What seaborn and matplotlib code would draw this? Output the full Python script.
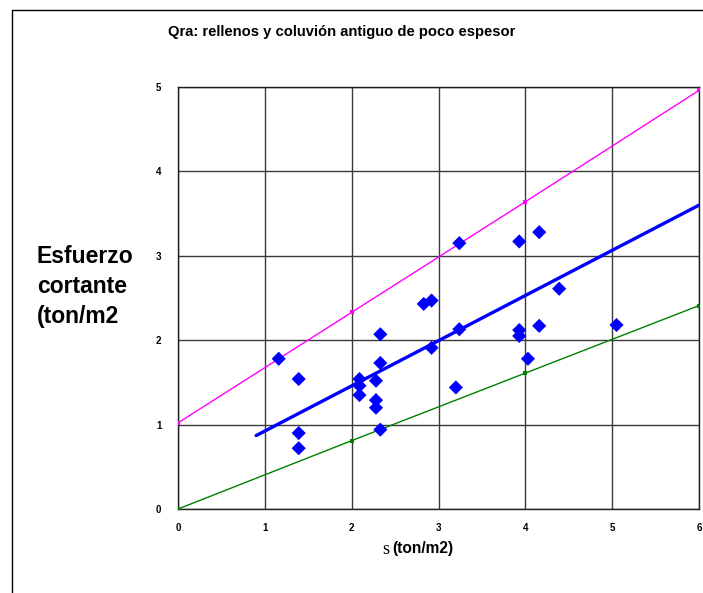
import matplotlib
matplotlib.use("Agg")
import matplotlib.pyplot as plt
import seaborn as sns
import pandas as pd
from matplotlib.lines import Line2D

# ---- data ----
sigma = [1.16, 1.39, 1.39, 1.39, 2.09, 2.09, 2.09, 2.28, 2.28, 2.28,
         2.33, 2.33, 2.33, 2.83, 2.92, 2.92, 3.20, 3.24, 3.24,
         3.93, 3.93, 3.93, 4.03, 4.16, 4.16, 4.39, 5.05]
tau = [1.78, 1.54, 0.90, 0.72, 1.54, 1.46, 1.35, 1.52, 1.29, 1.20,
       0.94, 1.73, 2.07, 2.43, 2.47, 1.91, 1.44, 3.15, 2.13,
       3.17, 2.12, 2.05, 1.78, 3.28, 2.17, 2.61, 2.18]

fit_x = [0.90, 6.0]
fit_y = [0.87, 3.60]

env_x = [0, 2, 4, 6]
upper_y = [1.02, 2.33, 3.64, 4.96]
lower_y = [0.0, 0.81, 1.61, 2.41]

x_ticks = [0, 1, 2, 3, 4, 5, 6]
y_ticks = [0, 1, 2, 3, 4, 5]

title = "Qra: rellenos y coluvión antiguo de poco espesor"
ylabel_lines = ["Esfuerzo", "cortante", "(ton/m2"]

# ---- figure ----
sns.set_theme(style="white")
plt.rcParams["font.family"] = ["Liberation Sans", "DejaVu Sans"]
plt.rcParams["text.color"] = "black"
plt.rcParams["xtick.color"] = "black"
plt.rcParams["ytick.color"] = "black"
plt.rcParams["axes.labelcolor"] = "black"

W, H, DPI = 703, 593, 100
fig = plt.figure(figsize=(W / DPI, H / DPI), dpi=DPI)
ax = fig.add_axes([178 / W, 1 - 509 / H, (699 - 178) / W, (509 - 87) / H])

df_pts = pd.DataFrame({"s": sigma, "t": tau})
df_up = pd.DataFrame({"x": env_x, "y": upper_y})
df_lo = pd.DataFrame({"x": env_x, "y": lower_y})
df_fit = pd.DataFrame({"x": fit_x, "y": fit_y})

sns.lineplot(data=df_up, x="x", y="y", ax=ax, color="#FF00FF", lw=1.0,
             marker="s", markersize=2.5, markeredgewidth=0, zorder=3)
sns.lineplot(data=df_lo, x="x", y="y", ax=ax, color="#008000", lw=1.0,
             marker="s", markersize=2.5, markeredgewidth=0, zorder=3)
sns.lineplot(data=df_fit, x="x", y="y", ax=ax, color="#0000FF", lw=2.4,
             zorder=4)
sns.scatterplot(data=df_pts, x="s", y="t", ax=ax, marker="D", s=52,
                color="#0000FF", edgecolor="none", linewidth=0, zorder=5)

ax.set_xlim(0, 6)
ax.set_ylim(0, 5)
ax.set_xticks(x_ticks)
ax.set_yticks(y_ticks)
ax.set_xticklabels([str(v) for v in x_ticks], fontsize=7, fontweight="bold")
ax.set_yticklabels([str(v) for v in y_ticks], fontsize=7, fontweight="bold")
ax.tick_params(axis="both", which="both", direction="out", length=4,
               width=1, color="#404040", pad=6, labelcolor="black")
ax.tick_params(axis="y", pad=8)
ax.grid(True, color="#3a3a3a", lw=1.0)
ax.set_axisbelow(True)
for sp in ax.spines.values():
    sp.set_color("#202020")
    sp.set_linewidth(1.0)
    sp.set_visible(True)
ax.set_xlabel("")
ax.set_ylabel("")

# title
fig.text(342 / W, 1 - 32 / H, title, ha="center", va="center",
         fontsize=10.6, fontweight="bold", color="black")

# y label (three lines)
for i, line in enumerate(ylabel_lines):
    fig.text(37 / W, 1 - (257 + i * 29.5) / H, line, ha="left", va="center",
             fontsize=16.5, fontweight="bold", color="black")

# x label: serif sigma-like "s" + bold sans
fig.text(389 / W, 1 - 550 / H, "s", ha="right", va="center",
         fontsize=13, family="Liberation Serif", color="black")
fig.text(392 / W, 1 - 549 / H, "(ton/m2)", ha="left", va="center",
         fontsize=11.2, fontweight="bold", color="black")

# outer chart-area border (left and top edges only visible)
fig.add_artist(Line2D([12 / W, 12 / W], [0, 1 - 10 / H], transform=fig.transFigure,
                      color="black", lw=1.0))
fig.add_artist(Line2D([12 / W, 1], [1 - 10 / H, 1 - 10 / H], transform=fig.transFigure,
                      color="black", lw=1.0))

fig.savefig("out.png", dpi=DPI)
